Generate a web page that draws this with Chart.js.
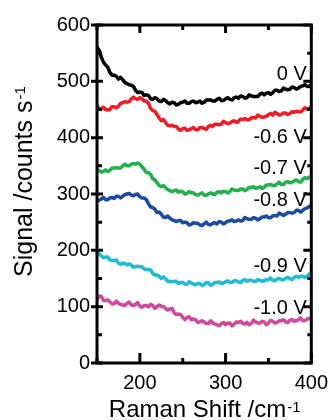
<!DOCTYPE html>
<html><head><meta charset="utf-8">
<script src="https://cdn.jsdelivr.net/npm/chart.js@4/dist/chart.umd.min.js"></script>
<style>html,body{margin:0;padding:0;background:#fff}canvas{display:block}</style>
</head><body>
<canvas id="c" width="336" height="420"></canvas>
<script>
// Raman shift (cm-1)
const shifts = [150,152.5,155,157.5,160,162.5,165,167.5,170,172.5,175,177.5,180,182.5,185,187.5,190,192.5,195,197.5,200,202.5,205,207.5,210,212.5,215,217.5,220,222.5,225,227.5,230,232.5,235,237.5,240,242.5,245,247.5,250,252.5,255,257.5,260,262.5,265,267.5,270,272.5,275,277.5,280,282.5,285,287.5,290,292.5,295,297.5,300,302.5,305,307.5,310,312.5,315,317.5,320,322.5,325,327.5,330,332.5,335,337.5,340,342.5,345,347.5,350,352.5,355,357.5,360,362.5,365,367.5,370,372.5,375,377.5,380,382.5,385,387.5,390,392.5,395,397.5,400];
// Signal (counts s-1) for each potential
const s0V = [561,555,543,534,529,525,516,511,511,509,504,507,503,498,496,494,493,491,484,480,481,480,475,476,475,469,468,471,469,465,464,468,466,462,460,463,462,458,459,462,463,465,461,461,464,465,462,463,465,461,463,467,467,467,465,465,468,470,466,466,469,471,468,467,471,472,470,474,473,470,471,476,474,473,473,473,477,479,476,479,480,477,480,484,484,482,483,488,486,485,486,490,489,486,488,491,492,494,491,491,494];
const sM06V = [457,452,451,454,450,449,450,455,455,453,456,461,462,464,463,464,469,472,469,468,471,469,465,465,461,452,448,447,441,435,430,432,427,422,421,422,420,420,415,413,416,417,413,414,416,418,414,414,418,418,416,415,420,422,420,424,424,423,424,429,427,425,426,429,430,427,429,433,432,434,432,432,435,436,435,440,438,436,437,438,441,443,440,445,443,440,441,444,444,441,443,446,445,447,446,446,449,453,451,452,455];
const sM07V = [341,342,339,340,343,340,342,346,346,347,346,346,350,353,350,350,353,354,353,355,353,348,344,338,338,335,327,325,320,315,313,315,311,308,306,304,306,307,303,305,304,300,301,304,302,302,299,298,300,302,298,298,300,302,300,299,303,304,302,305,304,302,304,309,307,306,306,309,309,306,308,312,311,313,310,311,313,310,312,316,316,317,315,315,318,321,317,317,321,322,320,321,323,325,322,321,326,329,327,330,330];
const sM08V = [288,289,291,294,290,290,293,294,292,296,296,293,296,299,300,301,298,297,299,300,295,293,293,290,283,277,276,273,267,268,264,259,258,261,257,254,253,251,253,253,249,250,249,245,246,249,248,248,245,244,247,250,246,245,248,249,247,251,250,247,249,252,252,254,251,252,254,252,253,258,256,255,255,258,257,254,256,259,259,261,258,258,261,262,261,266,264,262,264,267,267,266,267,271,271,268,271,274,275,278,276];
const sM09V = [196,194,190,187,188,188,183,182,182,183,177,175,177,177,174,176,174,170,171,172,171,171,167,166,166,165,159,156,156,154,150,153,149,145,145,144,145,145,141,143,143,140,140,144,142,140,139,141,141,138,139,143,142,138,140,143,143,144,141,142,144,146,143,143,146,146,144,143,147,148,145,147,147,145,145,148,147,145,146,148,148,151,147,146,149,150,148,148,150,152,150,148,152,154,152,154,154,152,154,158,157];
const sM10V = [113,119,118,111,111,112,109,105,105,110,106,104,103,102,106,108,103,102,104,107,101,99,102,102,100,104,102,97,100,103,101,100,97,94,96,97,89,86,87,86,81,77,81,82,77,78,77,72,73,75,73,70,70,75,71,69,68,66,70,72,68,71,71,66,69,73,72,74,70,69,72,68,70,76,73,71,71,74,73,68,71,76,74,71,72,75,75,77,73,72,76,77,74,75,77,80,75,75,78,79,77];
const seriesNames = ["0 V","-0.6 V","-0.7 V","-0.8 V","-0.9 V","-1.0 V"];
const xTickLabels = [200,300,400];
const xMinorTicks = [150,250,350];
const yTickLabels = [0,100,200,300,400,500,600];
const yMinorTicks = [50,150,250,350,450,550];

const allSeries = [s0V,sM06V,sM07V,sM08V,sM09V,sM10V];
const colors = ["#000000","#ee1c25","#22b14c","#1a4ba0","#1fbdd3","#d2479e"];
const labelAtY = [513,400,346,289,172,97];
const FONT = '"Liberation Sans", Arial, sans-serif';

const decor = {
  id:'decor',
  afterDatasetsDraw(chart){
    const {ctx, chartArea:a, scales:{x,y}} = chart;
    ctx.save();
    ctx.fillStyle='#000';
    ctx.font='20px '+FONT;
    ctx.textAlign='right'; ctx.textBaseline='middle';
    seriesNames.forEach((t,i)=>ctx.fillText(t, a.right-4.5, y.getPixelForValue(labelAtY[i])));
    ctx.strokeStyle='#000';
    ctx.lineWidth=3;
    ctx.strokeRect(a.left,a.top,a.right-a.left,a.bottom-a.top);
    ctx.beginPath();
    xTickLabels.forEach(v=>{const p=x.getPixelForValue(v);
      ctx.moveTo(p,a.bottom); ctx.lineTo(p,a.bottom-10);
      ctx.moveTo(p,a.top); ctx.lineTo(p,a.top+8);});
    xMinorTicks.forEach(v=>{const p=x.getPixelForValue(v);
      ctx.moveTo(p,a.bottom); ctx.lineTo(p,a.bottom-5);
      ctx.moveTo(p,a.top); ctx.lineTo(p,a.top+5);});
    yTickLabels.forEach(v=>{const p=y.getPixelForValue(v);
      ctx.moveTo(a.left-6,p); ctx.lineTo(a.left+6,p);
      ctx.moveTo(a.right,p); ctx.lineTo(a.right-8,p);});
    yMinorTicks.forEach(v=>{const p=y.getPixelForValue(v);
      ctx.moveTo(a.left,p); ctx.lineTo(a.left+5,p);
      ctx.moveTo(a.right,p); ctx.lineTo(a.right-4,p);});
    ctx.stroke();
    // x title
    ctx.textAlign='left'; ctx.textBaseline='alphabetic';
    ctx.font='24px '+FONT;
    const xt='Raman Shift /cm', xs='-1';
    const w1=ctx.measureText(xt).width;
    ctx.font='15px '+FONT;
    const w2=ctx.measureText(xs).width;
    let sx=(a.left+a.right)/2-(w1+w2)/2;
    ctx.font='24px '+FONT; ctx.fillText(xt,sx,417);
    ctx.font='15px '+FONT; ctx.fillText(xs,sx+w1+1,412);
    // y title
    ctx.translate(32,277); ctx.rotate(-Math.PI/2);
    ctx.font='25px '+FONT;
    const yt='Signal /counts s';
    const wy=ctx.measureText(yt).width;
    ctx.fillText(yt,0,0);
    ctx.font='15px '+FONT; ctx.fillText('-1',wy+1,-7);
    ctx.restore();
  }
};

new Chart(document.getElementById('c'),{
  type:'line',
  data:{datasets: allSeries.map((s,i)=>({
    label: seriesNames[i],
    data: shifts.map((v,j)=>({x:v,y:s[j]})),
    borderColor: colors[i], backgroundColor: colors[i],
    borderWidth:3.5, pointRadius:0, tension:0, fill:false,
    borderJoinStyle:'round', borderCapStyle:'round'
  }))},
  options:{
    responsive:false, animation:false, devicePixelRatio:1,
    layout:{padding:{left:0,top:25,right:19.5,bottom:0}},
    plugins:{legend:{display:false},tooltip:{enabled:false}},
    scales:{
      x:{type:'linear',min:150,max:400,
        grid:{display:false,drawTicks:false}, border:{display:false},
        afterBuildTicks:s=>{s.ticks=xTickLabels.map(v=>({value:v}));},
        afterFit:s=>{s.height=57;},
        ticks:{autoSkip:false,maxRotation:0,padding:8,color:'#000',font:{family:FONT,size:20}}},
      y:{type:'linear',min:0,max:600,
        grid:{display:false,drawTicks:false}, border:{display:false},
        afterBuildTicks:s=>{s.ticks=yTickLabels.map(v=>({value:v}));},
        afterFit:s=>{s.width=97;},
        ticks:{padding:7,color:'#000',font:{family:FONT,size:20}}}
    }
  },
  plugins:[decor]
});
</script>
</body></html>
